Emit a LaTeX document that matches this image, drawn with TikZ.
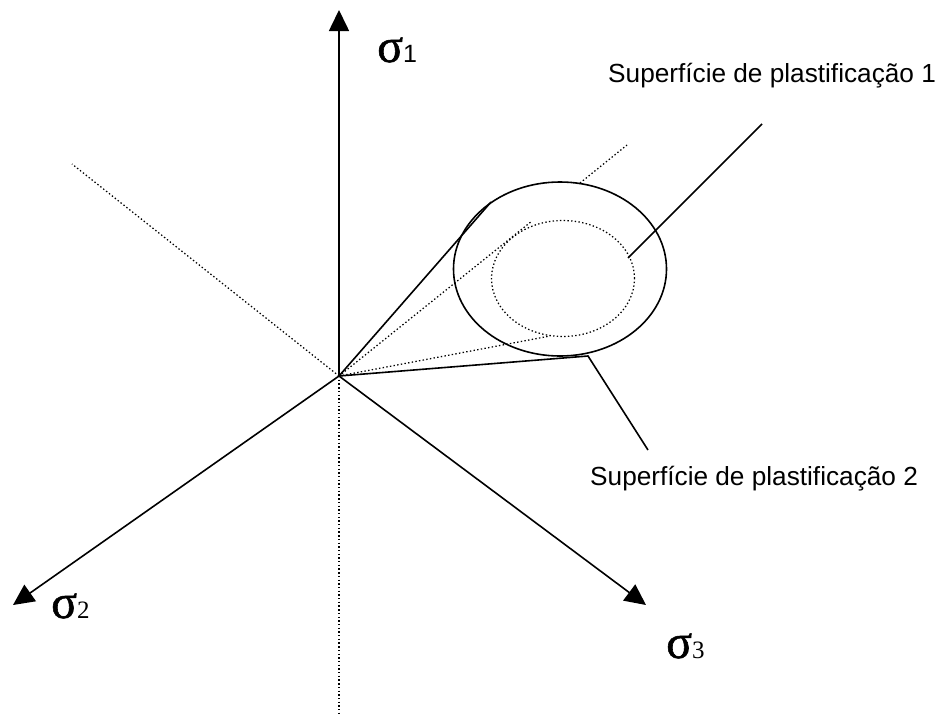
\documentclass[tikz,border=0pt]{standalone}
\usepackage{fontspec}
\setmainfont{Liberation Sans}
\newfontfamily\sigfont{Liberation Serif}
\newfontfamily\sigmafont[FakeBold=1.2]{Liberation Serif}
\usetikzlibrary{arrows.meta,shapes.geometric}
\tikzset{
  solidline/.style={line width=1.6pt,black},
  thinline/.style={line width=1.25pt,black,dash pattern=on 1.4pt off 2.3pt},
  axisline/.style={solidline,-{Triangle[length=21pt,width=20pt]}},
  labeltext/.style={inner sep=0pt,anchor=base west,font=\fontsize{26.2}{28}\selectfont},
  siglabel/.style={inner sep=0pt,anchor=base west,font=\sigfont\fontsize{25}{27}\selectfont},
}
\newcommand{\sigmatext}[1]{{\sigmafont\fontsize{48}{48}\selectfont σ}#1}
\begin{document}
\begin{tikzpicture}[x=1pt,y=-1pt]
\useasboundingbox (0,0) rectangle (944,715);
\coordinate (O) at (339,376);
\coordinate (top) at (339,10);
\coordinate (left) at (13,605);
\coordinate (right) at (646,605);
\coordinate (bottom) at (339,715);
\coordinate (backL) at (72,164);
\coordinate (backRa) at (532,221);
\coordinate (backRb) at (580,183);
\coordinate (backRc) at (627,145);
\coordinate (tanA) at (491,202);
\coordinate (tanB) at (550,336);
\coordinate (tanC) at (588,356);
\coordinate (lead2) at (648,450);
\coordinate (lead1a) at (762,124);
\coordinate (lead1b) at (628,258);
\draw[axisline] (O) -- (top);
\draw[axisline] (O) -- (left);
\draw[axisline] (O) -- (right);
\draw[thinline] (O) -- (bottom);
\draw[thinline] (O) -- (backL);
\draw[thinline] (O) -- (backRa);
\draw[thinline] (backRb) -- (backRc);
\draw[thinline] (O) -- (tanB);
\draw[solidline] (O) -- (tanA);
\draw[solidline,line join=miter] (O) -- (tanC) -- (lead2);
\draw[solidline] (lead1a) -- (lead1b);
\node[draw,solidline,ellipse,minimum width=213pt,minimum height=174pt,inner sep=0pt] (outer) at (560,269) {};
\node[draw,thinline,ellipse,minimum width=143pt,minimum height=116pt,inner sep=0pt] (inner) at (563,278.5) {};
\node[siglabel] (s1) at (377,62) {\sigmatext{\rmfamily\normalfont\fontsize{25}{27}\selectfont 1}};
\node[siglabel] (s2) at (51,618) {\sigmatext{2}};
\node[siglabel] (s3) at (666,658) {\sigmatext{3}};
\node[labeltext] (t1) at (608,82) {Superfície de plastificação 1};
\node[labeltext] (t2) at (590,485) {Superfície de plastificação 2};
\end{tikzpicture}
\end{document}
